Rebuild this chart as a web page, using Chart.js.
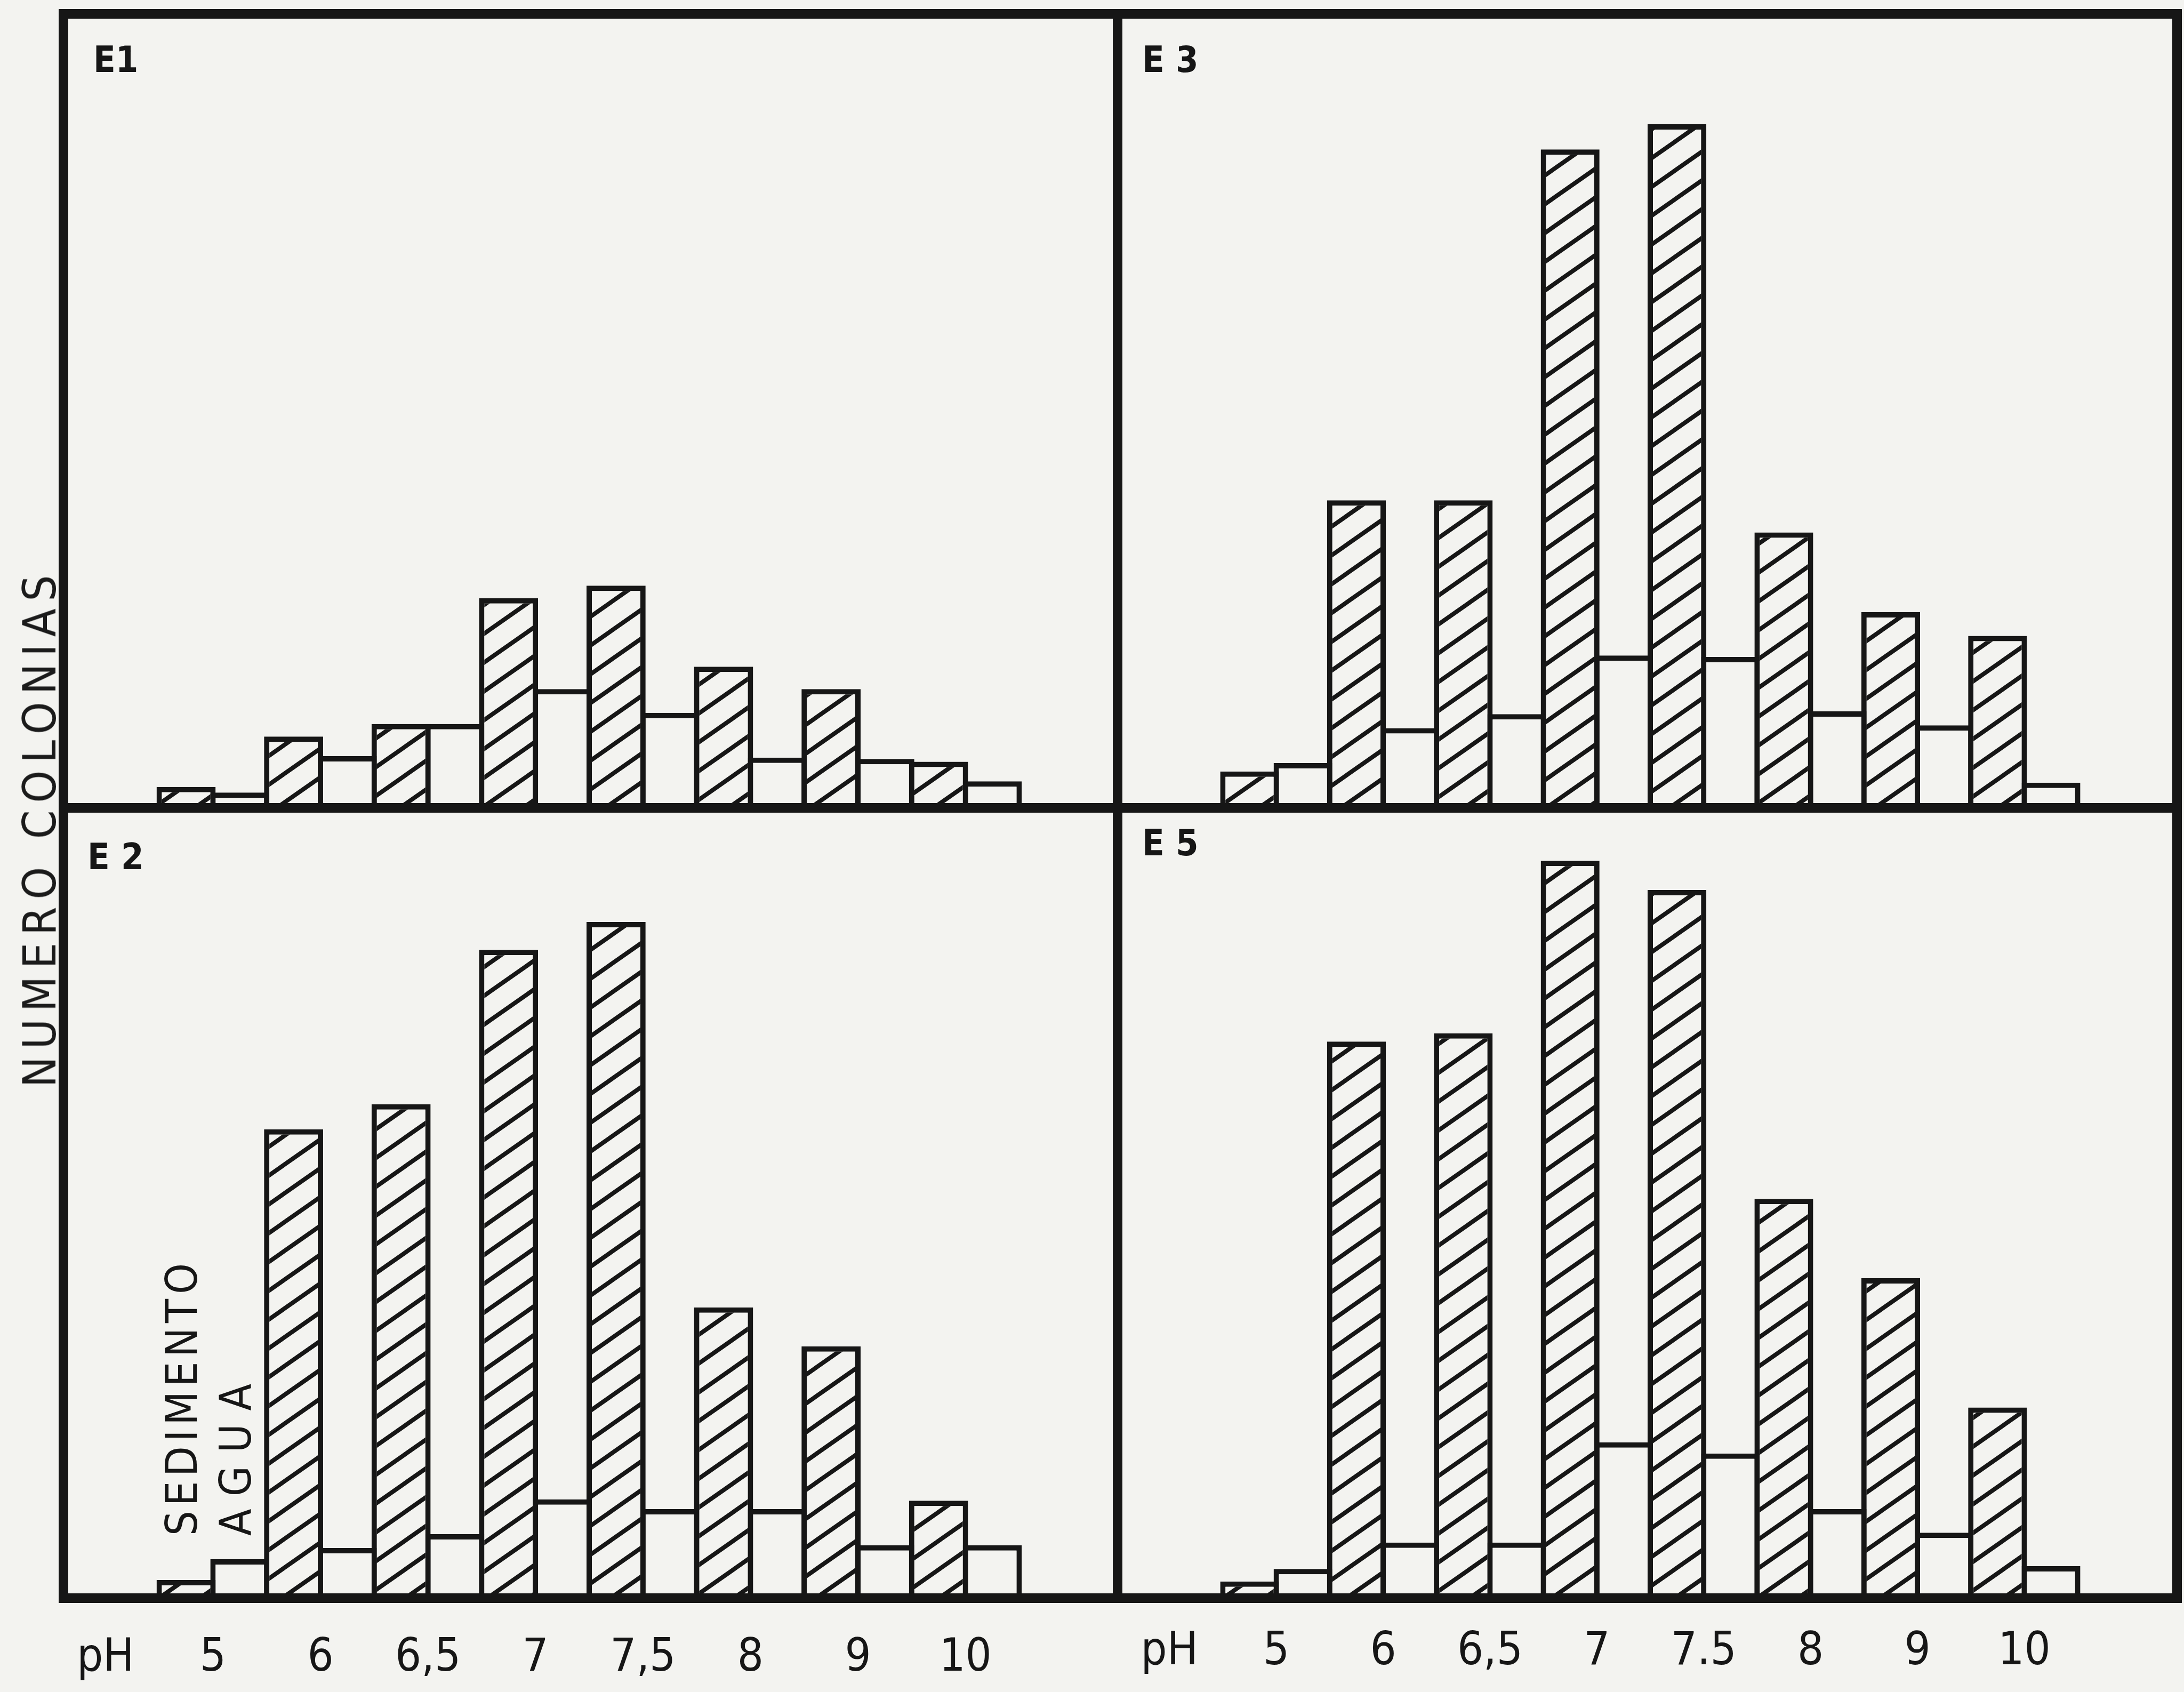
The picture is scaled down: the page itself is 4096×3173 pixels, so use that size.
<!DOCTYPE html>
<html>
<head>
<meta charset="utf-8">
<script src="https://cdn.jsdelivr.net/npm/chart.js@4.4.1/dist/chart.umd.min.js"></script>
<style>
  html, body { margin: 0; padding: 0; background: #f3f3f0; }
  #page { position: relative; width: 4096px; height: 3173px; overflow: hidden; background: #f3f3f0; }
  #page canvas { position: absolute; }
  #ytitle {
    position: absolute; left: 74px; top: 1552px;
    transform: translate(-50%, -50%) rotate(-90deg);
    white-space: nowrap; line-height: 1;
    font: 86px 'Liberation Sans Narrow', 'DejaVu Sans Condensed', sans-serif;
    color: #1b1b1b;
  }
</style>
</head>
<body>
<div id="page">
  <canvas id="cE1"></canvas>
  <canvas id="cE3"></canvas>
  <canvas id="cE2"></canvas>
  <canvas id="cE5"></canvas>
  <div id="ytitle">NUMERO COLONIAS</div>
</div>
<script>
// pH categories (first and last slots are empty on the plate)
const phLeft = ["pH", "5", "6", "6,5", "7", "7,5", "8", "9", "10", ""];
const phRight = ["pH", "5", "6", "6,5", "7", "7.5", "8", "9", "10", ""];
const seriesNames = ["SEDIMENTO", "AGUA"];
const axisTitle = "NUMERO COLONIAS";

// bar heights (arbitrary units, panel height = 568)
const e1Sedimento = [null, 15, 51, 60, 150, 159, 101, 85, 33, null];
const e1Agua      = [null, 11, 37, 60, 85, 68, 36, 35, 19, null];
const e3Sedimento = [null, 26, 220, 220, 471, 489, 197, 140, 123, null];
const e3Agua      = [null, 32, 57, 67, 109, 108, 69, 59, 18, null];
const e2Sedimento = [null, 13, 337, 355, 466, 486, 209, 181, 70, null];
const e2Agua      = [null, 28, 36, 46, 71, 64, 64, 38, 38, null];
const e5Sedimento = [null, 12, 400, 406, 530, 509, 287, 230, 137, null];
const e5Agua      = [null, 21, 40, 40, 112, 104, 64, 47, 23, null];

const yMax = 568;

const INK = "#161616";
const PAPER = "#f3f3f0";
const FONT = "'Liberation Sans Narrow', 'DejaVu Sans Condensed', sans-serif";

// frame lines of the plate, page px
const frame = { left: 119, mid: 2096, right: 4083, top: 26, middle: 1515, bottom: 2997 };
// horizontal span of the ten pH slots in each column, page px
const slotsLeft = { x0: 97, x1: 2113 };
const slotsRight = { x0: 2093, x1: 4097 };
const margin = 30;
const labelRoom = 180;

function hatch() {
  const w = 77, h = 54;
  const c = document.createElement("canvas");
  c.width = w; c.height = h;
  const g = c.getContext("2d");
  g.fillStyle = PAPER;
  g.fillRect(0, 0, w, h);
  g.strokeStyle = INK;
  g.lineWidth = 8;
  for (const k of [-1, 0, 1]) {
    g.beginPath();
    g.moveTo(-w, 2 * h + k * h);
    g.lineTo(2 * w, -h + k * h);
    g.stroke();
  }
  return g.createPattern(c, "repeat");
}

const framePlugin = {
  id: "panelFrame",
  afterDraw(chart, args, opts) {
    const { ctx } = chart;
    const f = opts.box;
    ctx.save();
    ctx.strokeStyle = INK;
    ctx.lineWidth = 18;
    ctx.strokeRect(f.x0, f.y0, f.x1 - f.x0, f.y1 - f.y0);
    ctx.fillStyle = INK;
    ctx.font = "bold 68px " + FONT;
    ctx.textBaseline = "alphabetic";
    ctx.fillText(opts.name, f.x0 + opts.dx, f.y0 + opts.dy);
    ctx.restore();
  },
};

// rotated legend words (E2 panel only)
const legendPlugin = {
  id: "sideLegend",
  afterDraw(chart, args, opts) {
    if (!opts.show) return;
    const { ctx } = chart;
    const f = chart.options.plugins.panelFrame.box;
    ctx.save();
    ctx.fillStyle = INK;
    ctx.font = "82px " + FONT;
    ctx.textBaseline = "middle";
    ctx.textAlign = "left";
    chart.data.datasets.forEach((ds, i) => {
      const text = ds.label;
      ctx.letterSpacing = "0px";
      const w0 = ctx.measureText(text).width;
      const sp = Math.max(0, (opts.lengths[i] - w0) / (text.length - 1));
      ctx.letterSpacing = sp + "px";
      ctx.save();
      ctx.translate(f.x0 + opts.xs[i], f.y1 - opts.rise);
      ctx.rotate(-Math.PI / 2);
      ctx.fillText(text, 0, 0);
      ctx.restore();
    });
    ctx.restore();
  },
};

const pattern = hatch();

function makePanel(id, p) {
  const el = document.getElementById(id);
  const extra = p.ticks ? labelRoom : 0;
  const cx0 = Math.min(p.box.x0, p.slots.x0) - margin;
  const cx1 = Math.max(p.box.x1, p.slots.x1) + margin;
  const cy0 = p.box.y0 - margin;
  const cy1 = p.box.y1 + margin + extra;
  el.width = cx1 - cx0;
  el.height = cy1 - cy0;
  el.style.left = cx0 + "px";
  el.style.top = cy0 + "px";

  const local = { x0: p.box.x0 - cx0, x1: p.box.x1 - cx0, y0: p.box.y0 - cy0, y1: p.box.y1 - cy0 };
  const padBottom = el.height - local.y1 - (p.ticks ? labelRoom : 0);

  const half = (p.slots.x1 - p.slots.x0) / p.labels.length / 2;
  const overlap = (half + 10) / half;

  const barStyle = {
    borderColor: INK,
    borderWidth: 10,
    borderSkipped: "start",
    barPercentage: overlap,
    categoryPercentage: 1,
  };

  return new Chart(el, {
    type: "bar",
    data: {
      labels: p.labels,
      datasets: [
        Object.assign({ label: seriesNames[0], data: p.sed, backgroundColor: pattern }, barStyle),
        Object.assign({ label: seriesNames[1], data: p.agua, backgroundColor: PAPER }, barStyle),
      ],
    },
    options: {
      responsive: false,
      animation: false,
      devicePixelRatio: 1,
      events: [],
      layout: {
        padding: {
          left: p.slots.x0 - cx0,
          right: cx1 - p.slots.x1,
          top: local.y0,
          bottom: padBottom,
        },
      },
      plugins: {
        legend: { display: false },
        tooltip: { enabled: false },
        panelFrame: { box: local, name: p.name, dx: p.dx, dy: p.dy },
        sideLegend: p.legend || { show: false },
      },
      scales: {
        x: {
          display: p.ticks,
          grid: { display: false, drawTicks: false },
          border: { display: false },
          ticks: {
            color: INK,
            padding: p.tickPad || 0,
            maxRotation: 0,
            autoSkip: false,
            font: { family: FONT, size: 86, weight: "normal" },
          },
          afterFit: (scale) => { if (p.ticks) scale.height = labelRoom; },
        },
        y: { display: false, min: 0, max: yMax },
      },
    },
    plugins: [framePlugin, legendPlugin],
  });
}

makePanel("cE1", {
  name: "E1", labels: phLeft, sed: e1Sedimento, agua: e1Agua,
  box: { x0: frame.left, x1: frame.mid, y0: frame.top, y1: frame.middle },
  slots: slotsLeft, ticks: false, dx: 56, dy: 109,
});
makePanel("cE3", {
  name: "E 3", labels: phRight, sed: e3Sedimento, agua: e3Agua,
  box: { x0: frame.mid, x1: frame.right, y0: frame.top, y1: frame.middle },
  slots: slotsRight, ticks: false, dx: 46, dy: 109,
});
makePanel("cE2", {
  name: "E 2", labels: phLeft, sed: e2Sedimento, agua: e2Agua,
  box: { x0: frame.left, x1: frame.mid, y0: frame.middle, y1: frame.bottom },
  slots: slotsLeft, ticks: true, tickPad: 62, dx: 45, dy: 115,
  legend: { show: true, xs: [229, 330], rise: 117, lengths: [511, 285] },
});
makePanel("cE5", {
  name: "E 5", labels: phRight, sed: e5Sedimento, agua: e5Agua,
  box: { x0: frame.mid, x1: frame.right, y0: frame.middle, y1: frame.bottom },
  slots: slotsRight, ticks: true, tickPad: 50, dx: 46, dy: 89,
});

// stretch the side title to its length on the plate
(() => {
  const t = document.getElementById("ytitle");
  t.textContent = axisTitle;
  const w = t.getBoundingClientRect().height;
  const sp = (961 - w) / (axisTitle.length - 1);
  if (sp > 0) t.style.letterSpacing = sp + "px";
})();
</script>
</body>
</html>
